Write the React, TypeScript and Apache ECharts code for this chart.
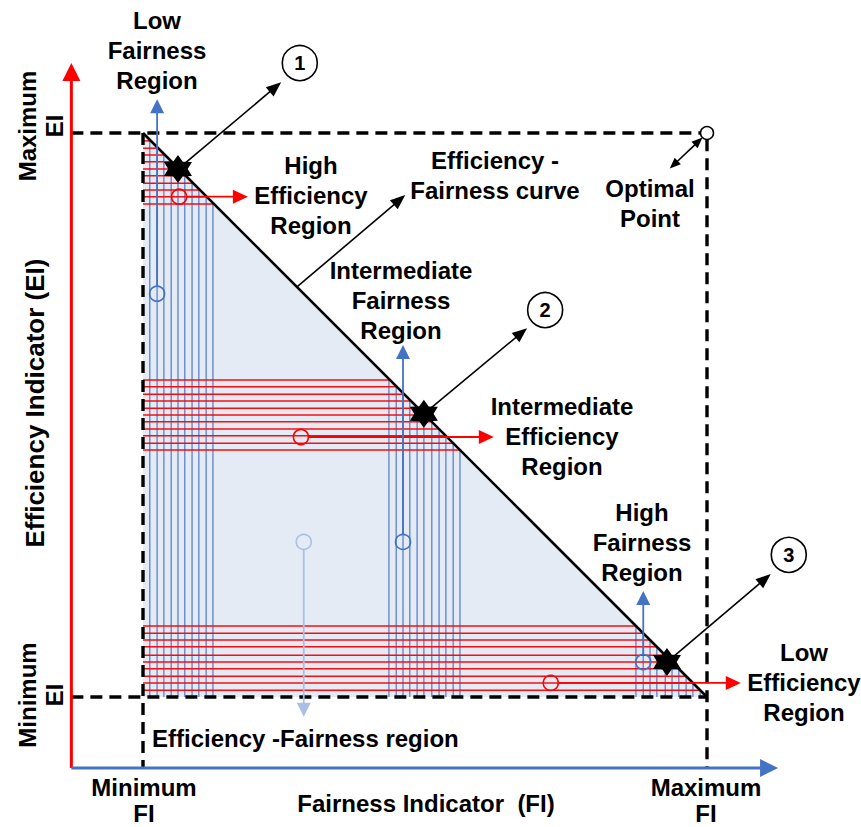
import React, { useEffect, useRef } from "react";
import * as echarts from "echarts";

// ---- data space: the dashed box runs from 0 (minimum) to 100 (maximum) on both indicators ----
const X_RANGE = [-25.355, 127.305];
const Y_RANGE = [-23.05, 123.58];

const frontier = [[0, 100], [100, 0]]; // efficiency-fairness curve
const regionTriangle = [[0, 100], [100, 0], [0, 0]];

// horizontal (red) hatching, y values
const redLinesTop = [98.6, 97.3, 96.1, 94.9, 93.6, 92.4, 91.1, 89.9, 88.7, 87.4];
const redLinesMid = [56.2, 55.0, 53.7, 52.5, 51.2, 50.0, 48.8, 47.5, 46.3, 45.0, 43.8];
const redLinesLow = [12.6, 11.3, 10.1, 8.9, 7.4, 6.2, 5.0, 3.7, 2.5, 1.2];
// vertical (blue) hatching, x values
const blueLinesLeft = [1.2, 2.5, 3.7, 5.0, 6.2, 7.4, 8.7, 9.9, 11.2, 12.4];
const blueLinesMid = [43.6, 44.9, 46.1, 47.3, 48.6, 49.8, 51.2, 52.5, 53.7, 55.0, 56.2];
const blueLinesRight = [87.4, 88.7, 89.9, 91.1, 92.6, 93.8, 95.0, 96.3, 97.5, 98.8];

// operating points on the curve and their callouts
const stars = [[6.2, 93.6], [49.8, 50.2], [92.9, 6.2]];
const starArrowTips = [[24.5, 109.0], [68.1, 65.4], [111.3, 21.8]];
const numberLabels = ["1", "2", "3"];
const numberCircles = [[27.8, 112.4], [71.3, 68.6], [114.5, 25.2]];

// region arrows
const redArrowTails = [[6.4, 88.7], [28.0, 46.1], [72.3, 2.5]];
const redArrowTips = [[18.6, 88.7], [62.2, 46.1], [106.0, 2.5]];
const blueArrowTails = [[2.5, 71.5], [46.1, 27.5], [88.7, 6.2]];
const blueArrowTips = [[2.5, 106.0], [46.1, 62.4], [88.7, 18.8]];
const regionArrowTail = [28.5, 27.5];
const regionArrowTip = [28.5, -3.5];
const curveArrowTail = [27.3, 72.7];
const curveArrowTip = [46.5, 89.0];
const optimalPoint = [100, 100];
const optimalArrowEnds = [[99.2, 99.2], [93.4, 93.7]];

// axes (origin and arrow tips)
const axisOrigin = [-12.7, -12.6];
const yAxisTip = [-12.7, 112.4];
const xAxisTip = [112.6, -12.6];

const FONT = '"Liberation Sans", Arial, Helvetica, sans-serif';

function frontierX(y: number) {
  const [a, b] = frontier;
  return a[0] + ((y - a[1]) / (b[1] - a[1])) * (b[0] - a[0]);
}
function frontierY(x: number) {
  const [a, b] = frontier;
  return a[1] + ((x - a[0]) / (b[0] - a[0])) * (b[1] - a[1]);
}

function segSeries(name: string, segs: number[][], stroke: string, width: number, opts: any = {}) {
  return {
    name,
    type: "custom",
    coordinateSystem: "cartesian2d",
    silent: true,
    z: opts.z ?? 2,
    data: segs,
    renderItem: (_p: any, api: any) => {
      const a = api.coord([api.value(0), api.value(1)]);
      const b = api.coord([api.value(2), api.value(3)]);
      return {
        type: "line",
        shape: { x1: a[0], y1: a[1], x2: b[0], y2: b[1] },
        style: {
          stroke,
          lineWidth: width,
          lineDash: opts.dash || null,
          opacity: opts.opacity ?? 1,
          lineCap: "butt",
        },
      };
    },
  };
}

function arrowSeries(
  name: string,
  segs: number[][],
  color: string,
  width: number,
  headLen: number,
  headW: number,
  opts: any = {}
) {
  return {
    name,
    type: "custom",
    coordinateSystem: "cartesian2d",
    silent: true,
    z: opts.z ?? 4,
    data: segs,
    renderItem: (_p: any, api: any) => {
      const a = api.coord([api.value(0), api.value(1)]);
      const b = api.coord([api.value(2), api.value(3)]);
      const dx = b[0] - a[0];
      const dy = b[1] - a[1];
      const L = Math.hypot(dx, dy) || 1;
      const ux = dx / L;
      const uy = dy / L;
      const off = opts.startOffset || 0;
      const head = (tip: number[], sx: number, sy: number) => {
        const base = [tip[0] - sx * headLen, tip[1] - sy * headLen];
        return {
          type: "polygon",
          shape: {
            points: [
              tip,
              [base[0] - (sy * headW) / 2, base[1] + (sx * headW) / 2],
              [base[0] + (sy * headW) / 2, base[1] - (sx * headW) / 2],
            ],
          },
          style: { fill: color, opacity: opts.opacity ?? 1 },
        };
      };
      const start = opts.double
        ? [a[0] + ux * headLen * 0.8, a[1] + uy * headLen * 0.8]
        : [a[0] + ux * off, a[1] + uy * off];
      const end = [b[0] - ux * headLen * 0.8, b[1] - uy * headLen * 0.8];
      const children: any[] = [
        {
          type: "line",
          shape: { x1: start[0], y1: start[1], x2: end[0], y2: end[1] },
          style: { stroke: color, lineWidth: width, opacity: opts.opacity ?? 1 },
        },
        head(b, ux, uy),
      ];
      if (opts.double) children.push(head(a, -ux, -uy));
      return { type: "group", children };
    },
  };
}

function starPath() {
  const pts: string[] = [];
  for (let i = 0; i < 12; i++) {
    const ang = -Math.PI / 2 + (i * Math.PI) / 6;
    const r = i % 2 === 0 ? 12 : 7.2;
    pts.push(`${(12 + r * Math.cos(ang)).toFixed(2)} ${(12 + r * Math.sin(ang)).toFixed(2)}`);
  }
  return "path://M" + pts.join(" L") + " Z";
}

type Lbl = { t: string; x: number; y: number; align?: string; rot?: boolean; lh?: number; size?: number };
const textLabels: Lbl[] = [
  { t: "Low\nFairness\nRegion", x: 157, y: 50 },
  { t: "High\nEfficiency\nRegion", x: 311, y: 195 },
  { t: "Efficiency -\nFairness curve", x: 495, y: 175 },
  { t: "Optimal\nPoint", x: 650, y: 203 },
  { t: "Intermediate\nFairness\nRegion", x: 401, y: 300 },
  { t: "Intermediate\nEfficiency\nRegion", x: 562, y: 436 },
  { t: "High\nFairness\nRegion", x: 642, y: 542 },
  { t: "Low\nEfficiency\nRegion", x: 804, y: 682 },
  { t: "Efficiency -Fairness region", x: 152, y: 738, align: "left" },
  { t: "Minimum\nFI", x: 144, y: 800, lh: 26 },
  { t: "Fairness Indicator  (FI)", x: 426, y: 803 },
  { t: "Maximum\nFI", x: 706, y: 800, lh: 26 },
  { t: "Maximum\nEI", x: 41, y: 126, rot: true, lh: 27 },
  { t: "Efficiency Indicator (EI)", x: 35, y: 403, rot: true, size: 26 },
  { t: "Minimum\nEI", x: 41, y: 695, rot: true, lh: 27 },
];

export default function App() {
  const ref = useRef<HTMLDivElement>(null);

  useEffect(() => {
    if (!ref.current) return;
    const chart = echarts.init(ref.current, undefined, { renderer: "svg" });

    const redSegs = [...redLinesTop, ...redLinesMid, ...redLinesLow].map((y) => [0, y, frontierX(y), y]);
    const blueSegs = [...blueLinesLeft, ...blueLinesMid, ...blueLinesRight].map((x) => [x, 0, x, frontierY(x)]);
    const dashedSegs = [
      [axisOrigin[0], 100, optimalPoint[0] - 1.1, 100],
      [axisOrigin[0], 0, 100, 0],
      [0, 100, 0, axisOrigin[1]],
      [100, optimalPoint[1] - 1.1, 100, axisOrigin[1]],
    ];

    const scatterBase = { type: "scatter", silent: true, emphasis: { disabled: true } };

    const option: any = {
      animation: false,
      backgroundColor: "#ffffff",
      grid: { left: 0, right: 0, top: 0, bottom: 0, containLabel: false },
      xAxis: { type: "value", min: X_RANGE[0], max: X_RANGE[1], show: false },
      yAxis: { type: "value", min: Y_RANGE[0], max: Y_RANGE[1], show: false },
      series: [
        {
          name: "region",
          type: "custom",
          coordinateSystem: "cartesian2d",
          silent: true,
          z: 1,
          data: [0],
          renderItem: (_p: any, api: any) => ({
            type: "polygon",
            shape: { points: regionTriangle.map((p) => api.coord(p)) },
            style: { fill: "#e4ebf5" },
          }),
        },
        segSeries("blueHatch", blueSegs, "#4472c4", 1.5, { opacity: 0.75, z: 2 }),
        segSeries("redHatch", redSegs, "#ff0000", 1.5, { opacity: 0.95, z: 2 }),
        segSeries("frontier", [[frontier[0][0], frontier[0][1], frontier[1][0], frontier[1][1]]], "#000000", 2.6, { z: 3 }),
        segSeries("box", dashedSegs, "#000000", 3.4, { dash: [12, 7], z: 3 }),
        arrowSeries("yAxis", [[axisOrigin[0], axisOrigin[1], yAxisTip[0], yAxisTip[1]]], "#ff0000", 3, 18, 18, { z: 3 }),
        arrowSeries("xAxis", [[axisOrigin[0], axisOrigin[1], xAxisTip[0], xAxisTip[1]]], "#4472c4", 3, 18, 18, { z: 3 }),
        arrowSeries(
          "redArrows",
          redArrowTails.map((t, i) => [t[0], t[1], redArrowTips[i][0], redArrowTips[i][1]]),
          "#ff0000", 1.8, 15, 14, { startOffset: 7 }
        ),
        arrowSeries(
          "blueArrows",
          blueArrowTails.map((t, i) => [t[0], t[1], blueArrowTips[i][0], blueArrowTips[i][1]]),
          "#4472c4", 1.8, 14, 14, { startOffset: 7 }
        ),
        arrowSeries(
          "regionArrow",
          [[regionArrowTail[0], regionArrowTail[1], regionArrowTip[0], regionArrowTip[1]]],
          "#a9c0e4", 1.8, 14, 14, { startOffset: 7 }
        ),
        arrowSeries(
          "starArrows",
          stars.map((s, i) => [s[0], s[1], starArrowTips[i][0], starArrowTips[i][1]]),
          "#000000", 1.6, 15, 12
        ),
        arrowSeries(
          "curveArrow",
          [[curveArrowTail[0], curveArrowTail[1], curveArrowTip[0], curveArrowTip[1]]],
          "#000000", 1.6, 15, 12
        ),
        arrowSeries(
          "optimalArrow",
          [[optimalArrowEnds[0][0], optimalArrowEnds[0][1], optimalArrowEnds[1][0], optimalArrowEnds[1][1]]],
          "#000000", 1.6, 11, 9, { double: true }
        ),
        {
          ...scatterBase,
          name: "redCircles",
          z: 5,
          symbol: "circle",
          symbolSize: 15,
          itemStyle: { color: "rgba(0,0,0,0)", borderColor: "#ff0000", borderWidth: 1.6, opacity: 1 },
          data: redArrowTails,
        },
        {
          ...scatterBase,
          name: "blueCircles",
          z: 5,
          symbol: "circle",
          symbolSize: 15,
          itemStyle: { color: "rgba(0,0,0,0)", borderColor: "#4472c4", borderWidth: 1.6, opacity: 1 },
          data: blueArrowTails,
        },
        {
          ...scatterBase,
          name: "regionCircle",
          z: 5,
          symbol: "circle",
          symbolSize: 15,
          itemStyle: { color: "rgba(0,0,0,0)", borderColor: "#a9c0e4", borderWidth: 1.6, opacity: 1 },
          data: [regionArrowTail],
        },
        {
          ...scatterBase,
          name: "optimal",
          z: 5,
          symbol: "circle",
          symbolSize: 13,
          itemStyle: { color: "#ffffff", borderColor: "#000000", borderWidth: 1.5, opacity: 1 },
          data: [optimalPoint],
        },
        {
          ...scatterBase,
          name: "stars",
          z: 6,
          symbol: starPath(),
          symbolSize: 28,
          itemStyle: { color: "#000000", opacity: 1 },
          data: stars,
        },
        {
          ...scatterBase,
          name: "numbers",
          z: 6,
          symbol: "circle",
          symbolSize: 35,
          itemStyle: { color: "#ffffff", borderColor: "#000000", borderWidth: 1.6, opacity: 1 },
          label: {
            show: true,
            position: "inside",
            formatter: (p: any) => numberLabels[p.dataIndex],
            color: "#000000",
            fontWeight: "bold",
            fontSize: 20,
            fontFamily: FONT,
          },
          data: numberCircles,
        },
      ],
      graphic: textLabels.map((l) => ({
        type: "text",
        silent: true,
        x: l.x,
        y: l.y,
        rotation: l.rot ? Math.PI / 2 : 0,
        z: 10,
        style: {
          text: l.t,
          x: 0,
          y: 0,
          align: l.align || "center",
          verticalAlign: "middle",
          fontSize: l.size || 24,
          fontWeight: "bold",
          fontFamily: FONT,
          lineHeight: l.lh || 30,
          fill: "#000000",
        },
      })),
    };

    chart.setOption(option);
    return () => chart.dispose();
  }, []);

  return (
    <div
      ref={ref}
      style={{ position: "absolute", left: 0, top: 0, width: 861, height: 827, background: "#fff" }}
    />
  );
}
